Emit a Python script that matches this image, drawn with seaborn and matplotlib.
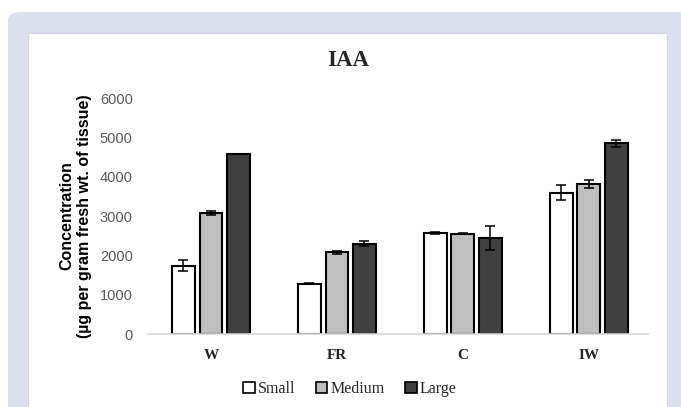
import matplotlib
matplotlib.use("Agg")
import matplotlib.pyplot as plt
from matplotlib.patches import FancyBboxPatch, Rectangle, Patch
import seaborn as sns
import pandas as pd
import numpy as np

categories = ["W", "FR", "C", "IW"]
sizes = ["Small", "Medium", "Large"]
small_vals = [1740, 1280, 2560, 3590]
medium_vals = [3070, 2080, 2555, 3810]
large_vals = [4580, 2300, 2430, 4850]
small_err = [135, 10, 25, 190]
medium_err = [45, 40, 10, 95]
large_err = [0, 75, 305, 85]
colors = ["#ffffff", "#bfbfbf", "#404040"]

rows = []
for s, vals, errs in zip(sizes, [small_vals, medium_vals, large_vals],
                         [small_err, medium_err, large_err]):
    for c, v, e in zip(categories, vals, errs):
        rows.append({"cat": c, "size": s, "val": v, "err": e})
df = pd.DataFrame(rows)

sns.set_theme(style="white")
W, H = 681, 407
fig = plt.figure(figsize=(W / 100, H / 100), dpi=100, facecolor="white")

# background panels
fig.patches.append(FancyBboxPatch((8 / W, 1 - 12 / H - 1.2), 1.2, 1.2,
                                  boxstyle="round,pad=0,rounding_size=0.02",
                                  transform=fig.transFigure, facecolor="#dcdfee",
                                  edgecolor="none", zorder=-10))
fig.patches.append(Rectangle((28 / W, -0.1), (667 - 28) / W, 1 - 33 / H + 0.1,
                             transform=fig.transFigure, facecolor="white",
                             edgecolor="#d6d6d6", lw=0.8, zorder=-9))

ax = fig.add_axes([148 / W, 73 / H, 500 / W, (334 - 98) / H])
ax.set_facecolor("none")

sns.barplot(data=df, x="cat", y="val", hue="size", order=categories,
            hue_order=sizes, palette=colors, width=0.655, gap=0.17,
            edgecolor="black", linewidth=1.5, errorbar=None, legend=False, ax=ax)

# error bars
for bars, s in zip(ax.containers, sizes):
    sub = df[df["size"] == s].set_index("cat").loc[categories]
    xs = [b.get_x() + b.get_width() / 2 for b in bars]
    ys = [b.get_height() for b in bars]
    errs = sub["err"].values
    mask = errs > 0
    ax.errorbar(np.array(xs)[mask], np.array(ys)[mask], yerr=errs[mask],
                fmt="none", ecolor="black", elinewidth=1.1, capsize=3.6,
                capthick=1.1, zorder=5)

ax.set_ylim(0, 6000)
ax.set_yticks(range(0, 6001, 1000))
ax.set_xlim(-0.5, 3.47)
for sp in ["top", "right", "left"]:
    ax.spines[sp].set_visible(False)
ax.spines["bottom"].set_color("#d9d9d9")
ax.spines["bottom"].set_linewidth(1.2)
ax.tick_params(axis="both", length=0)
ax.tick_params(axis="y", pad=11, labelcolor="#595959", labelsize=10.5)
ax.tick_params(axis="x", pad=11)
for lab in ax.get_yticklabels():
    lab.set_family("Liberation Sans")
for lab in ax.get_xticklabels():
    lab.set_family("Liberation Serif")
    lab.set_fontweight("bold")
    lab.set_fontsize(11)
ax.set_xlabel("")
ax.set_ylabel("Concentration\n(µg per gram fresh wt. of tissue)",
              family="Liberation Sans", fontweight="bold", fontsize=11.5,
              color="black", linespacing=1.2, labelpad=6)

fig.text(348.5 / W, 1 - 61 / H, "IAA", ha="center", va="center",
         family="Liberation Serif", fontweight="bold", fontsize=16.5)

handles = [Patch(facecolor=c, edgecolor="black", lw=1.2) for c in colors]
fig.legend(handles, sizes, loc="center", bbox_to_anchor=(350 / W, 1 - 389 / H),
           ncol=3, frameon=False, handlelength=0.7, handleheight=0.7,
           handletextpad=0.2, columnspacing=1.3,
           prop={"family": "Liberation Serif", "size": 11.5})

fig.savefig("out.png", dpi=100, facecolor="white")
